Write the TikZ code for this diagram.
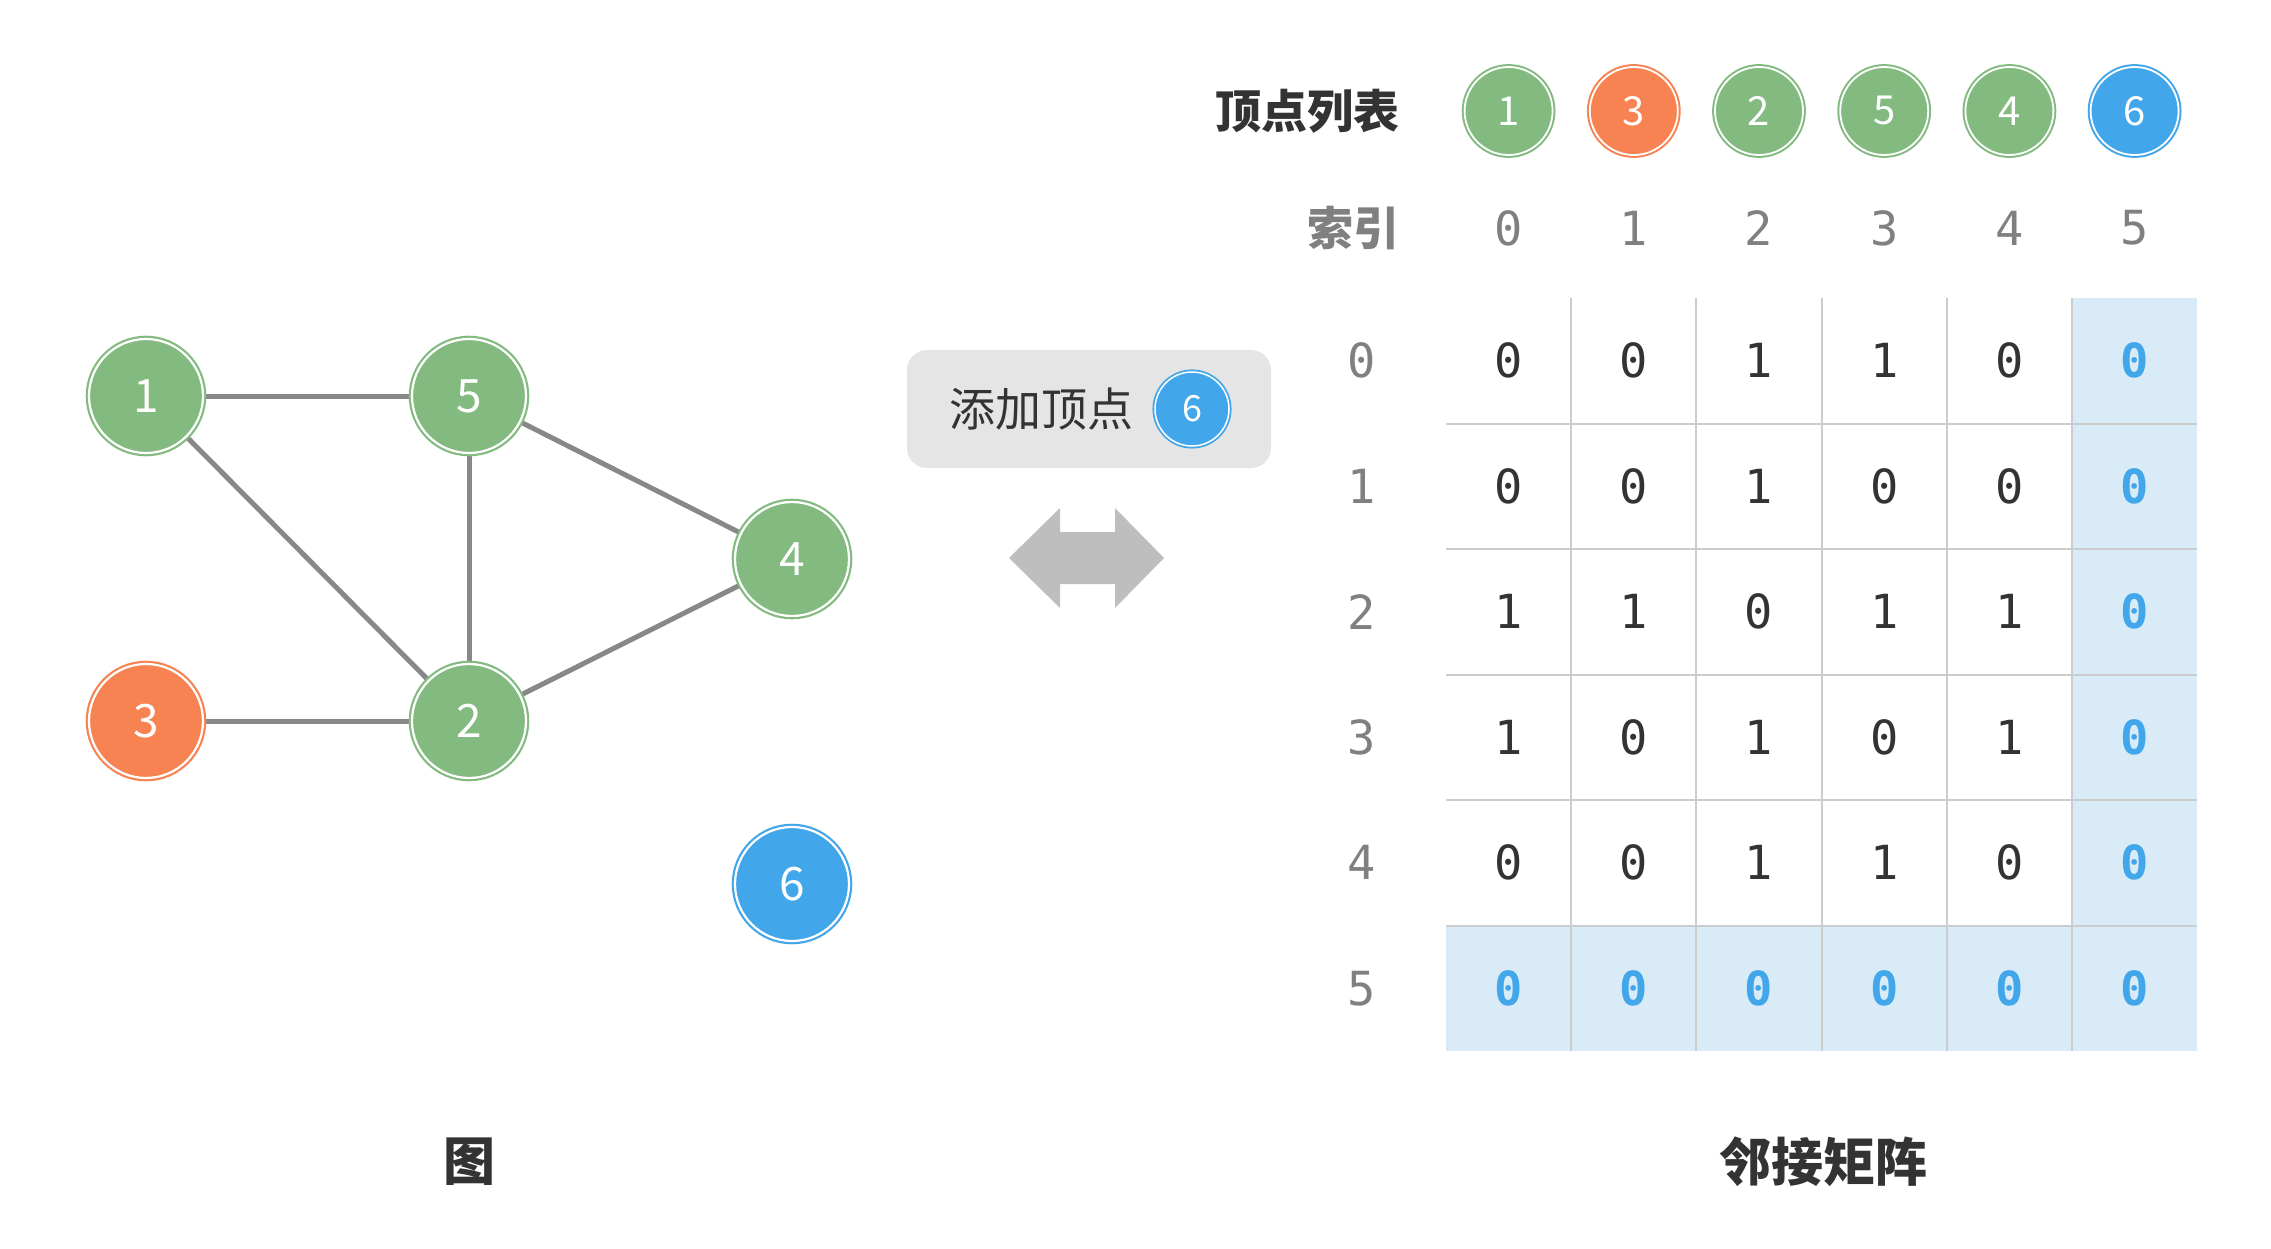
\documentclass[tikz,border=0pt]{standalone}
\usepackage{fontspec}
\usetikzlibrary{backgrounds}
\newfontfamily\cjkfont{Noto Sans CJK SC}
\newfontfamily\monofont{DejaVu Sans Mono}[Numbers=SlashedZero]
\definecolor{vgreen}{RGB}{130,186,128}
\definecolor{vorange}{RGB}{247,131,82}
\definecolor{vblue}{RGB}{66,166,234}
\definecolor{edgegray}{RGB}{136,136,136}
\definecolor{hlblue}{RGB}{218,235,248}
\definecolor{boxgray}{RGB}{229,229,229}
\definecolor{arrowgray}{RGB}{190,190,190}
\definecolor{darktext}{RGB}{51,51,51}
\definecolor{graytext}{RGB}{128,128,128}
\definecolor{gridgray}{RGB}{204,204,204}
\tikzset{
  vtx/.style={circle, inner sep=0pt, minimum size=114pt, fill=#1, draw=#1,
    line width=2.2pt, double=white, double distance=2.2pt, text=white,
    font=\cjkfont\fontsize{46}{46}\selectfont},
  vsmall/.style={vtx=#1, minimum size=88pt, line width=2pt, double distance=1.8pt,
    font=\cjkfont\fontsize{40}{40}\selectfont},
  vbox/.style={vtx=#1, minimum size=74pt, line width=1.8pt, double distance=1.5pt,
    font=\cjkfont\fontsize{36}{36}\selectfont},
  edge/.style={draw=edgegray, line width=5pt},
  idx/.style={text=graytext, font=\monofont\fontsize{47}{47}\selectfont, inner sep=0pt},
  cell/.style={text=darktext, font=\monofont\fontsize{47}{47}\selectfont, inner sep=0pt},
  hcell/.style={text=vblue, font=\monofont\bfseries\fontsize{47}{47}\selectfont, inner sep=0pt},
  grid/.style={draw=gridgray, line width=2pt},
  title/.style={text=darktext, font=\cjkfont\bfseries\fontsize{46}{46}\selectfont, inner sep=0pt},
  caption/.style={text=darktext, font=\cjkfont\bfseries\fontsize{52}{52}\selectfont, inner sep=0pt},
}
\begin{document}
\begin{tikzpicture}[x=1pt,y=-1pt]
\useasboundingbox (0,0) rectangle (2271,1249);

% graph
\node[vtx=vgreen] (g1) at (146,396) {1};
\node[vtx=vgreen] (g5) at (469,396) {5};
\node[vtx=vgreen] (g4) at (792,559) {4};
\node[vtx=vorange] (g3) at (146,721) {3};
\node[vtx=vgreen] (g2) at (469,721) {2};
\node[vtx=vblue] (g6) at (792,884) {6};
\begin{scope}[on background layer]
\draw[edge] (g1) -- (g5);
\draw[edge] (g1) -- (g2);
\draw[edge] (g5) -- (g2);
\draw[edge] (g5) -- (g4);
\draw[edge] (g4) -- (g2);
\draw[edge] (g3) -- (g2);
\end{scope}

% operation box
\node[fill=boxgray, rounded corners=20pt, minimum width=364pt, minimum height=118pt, inner sep=0pt] (opbox) at (1089,409) {};
\node[text=darktext, font=\cjkfont\fontsize{46}{46}\selectfont, inner sep=0pt] (optext) at (1041,409) {添加顶点};
\node[vbox=vblue] (opv) at (1192,409) {6};

% double arrow
\fill[arrowgray] (1009,558) -- (1060,508) -- (1060,532) -- (1115,532) -- (1115,508) -- (1164,558)
  -- (1115,608) -- (1115,584) -- (1060,584) -- (1060,608) -- cycle;

% vertex list
\node[title, anchor=east] (vltitle) at (1400,111) {顶点列表};
\node[title, anchor=east, text=graytext] (idxtitle) at (1400,228) {索引};
\foreach \lab/\col [count=\i from 0] in {1/vgreen,3/vorange,2/vgreen,5/vgreen,4/vgreen,6/vblue}{
  \node[vsmall=\col] (vl\i) at ({1446+125.2*(\i+0.5)},111) {\lab};
  \node[idx] (ci\i) at ({1446+125.2*(\i+0.5)},228) {\i};
}

% matrix highlight
\fill[hlblue] ({1446+125.2*5},298) rectangle (2197,1051);
\fill[hlblue] (1446,{298+125.5*5}) rectangle (2197,1051);
% grid
\foreach \k in {1,...,5}{
  \draw[grid] ({1446+125.2*\k},298) -- ({1446+125.2*\k},1051);
  \draw[grid] (1446,{298+125.5*\k}) -- (2197,{298+125.5*\k});
}
% row labels and cells
\foreach \row [count=\r from 0] in {{0,0,1,1,0,0},{0,0,1,0,0,0},{1,1,0,1,1,0},{1,0,1,0,1,0},{0,0,1,1,0,0},{0,0,0,0,0,0}}{
  \node[idx] (ri\r) at (1362,{298+125.5*(\r+0.5)}) {\r};
  \foreach \v [count=\c from 0] in \row {
    \ifnum\c=5 \def\cs{hcell}\else\ifnum\r=5 \def\cs{hcell}\else\def\cs{cell}\fi\fi
    \node[\cs] (m\r\c) at ({1446+125.2*(\c+0.5)},{298+125.5*(\r+0.5)}) {\v};
  }
}

% captions
\node[caption] (capg) at (469,1162) {图};
\node[caption] (capm) at (1823,1162) {邻接矩阵};
\end{tikzpicture}
\end{document}
